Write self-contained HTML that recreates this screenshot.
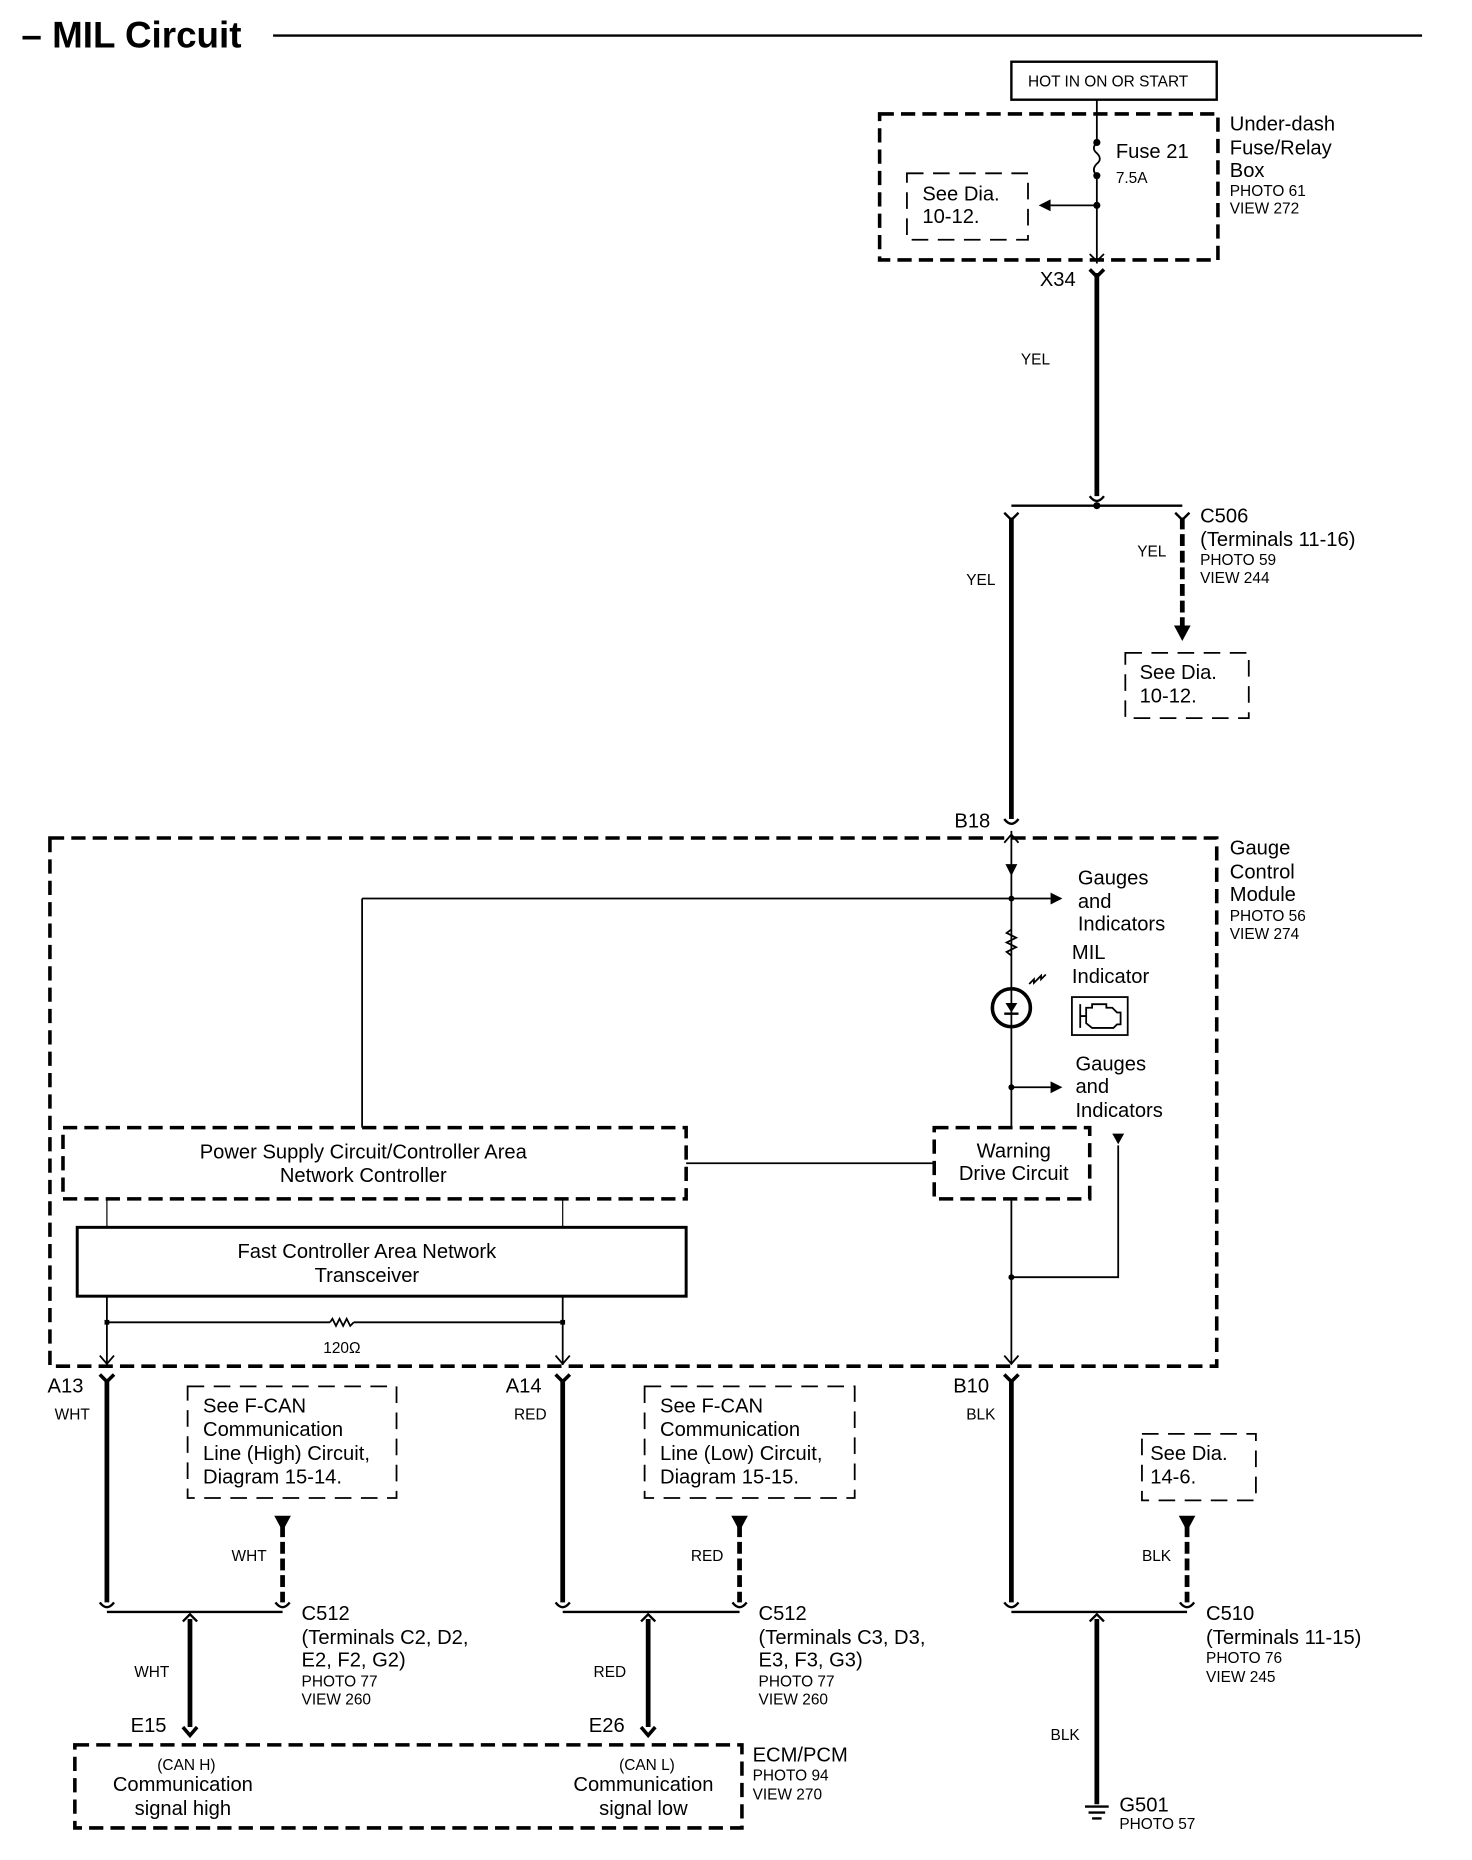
<!DOCTYPE html>
<html><head><meta charset="utf-8"><style>
html,body{margin:0;padding:0;background:#fff}
svg{display:block}
text{font-family:"Liberation Sans",Arial,sans-serif;fill:#000}
.m{font-size:17px}.s{font-size:13px}
</style></head><body>
<svg width="1472" height="1860" viewBox="0 0 1240 1567" xmlns="http://www.w3.org/2000/svg">
<g stroke="#000" fill="none">
<line x1="230" y1="30" x2="1198" y2="30" stroke-width="2"/>
<rect x="852" y="52" width="173" height="32" stroke-width="2"/>
<rect x="741" y="96" width="285" height="123" stroke-width="3" stroke-dasharray="12,6"/>
<line x1="924" y1="84" x2="924" y2="120" stroke-width="1.5"/>
<path d="M924 120 q-5 5 0 9 q5 5 0 9 q-5 5 0 10" stroke-width="1.5"/>
<line x1="924" y1="148" x2="924" y2="222" stroke-width="1.5"/>
<line x1="924" y1="173" x2="885" y2="173" stroke-width="1.5"/>
<rect x="764" y="146" width="102" height="56" stroke-width="1.5" stroke-dasharray="14,8"/>
<path d="M918 214 L924 220 L930 214" stroke-width="1.5"/>
<path d="M918 227 L924 233 L930 227" stroke-width="3"/>
<line x1="924" y1="230" x2="924" y2="418" stroke-width="4"/>
<path d="M918 418 q6 8 12 0" stroke-width="2"/>
<line x1="852" y1="426" x2="996" y2="426" stroke-width="2"/>
<path d="M846 432 L852 438 L858 432" stroke-width="2"/>
<path d="M990 432 L996 438 L1002 432" stroke-width="2"/>
<line x1="852" y1="436" x2="852" y2="690" stroke-width="4"/>
<line x1="996" y1="436" x2="996" y2="528" stroke-width="4" stroke-dasharray="10,4"/>
<rect x="948" y="550" width="104" height="55" stroke-width="1.5" stroke-dasharray="14,8"/>
<path d="M846 690 q6 8 12 0" stroke-width="2"/>
<rect x="42" y="706" width="983" height="445" stroke-width="3" stroke-dasharray="12,6"/>
<line x1="852" y1="700" x2="852" y2="950" stroke-width="1.5"/>
<line x1="852" y1="1010" x2="852" y2="1148" stroke-width="1.5"/>
<path d="M846 710 L852 703 L858 710" stroke-width="1.5"/>
<line x1="305" y1="757" x2="885" y2="757" stroke-width="1.5"/>
<line x1="305" y1="757" x2="305" y2="950" stroke-width="1.5"/>
<path d="M852 783 l-4 3 l8 4 l-8 4 l8 4 l-8 4 l4 3" stroke-width="1.5" fill="none"/>
<circle cx="852" cy="849" r="16" stroke-width="3" fill="#fff"/>
<line x1="852" y1="833" x2="852" y2="865" stroke-width="1.5"/>
<rect x="903" y="840" width="47" height="32" stroke-width="1.5"/>
<path d="M910 846v20 M910 856h5 M915 849h5v-3h12v3h5l4 4h3v10h-3l-3 3h-18l-5-4v-10z" stroke-width="1.5"/>
<path d="M867 829 l4-4 l0 3 l4-4 M873 826 l4-4 l0 3 l4-4" stroke-width="1.5"/>
<line x1="852" y1="916" x2="885" y2="916" stroke-width="1.5"/>
<rect x="53" y="950" width="525" height="60" stroke-width="3" stroke-dasharray="12,6"/>
<line x1="578" y1="980" x2="787" y2="980" stroke-width="1.5"/>
<rect x="787" y="950" width="131" height="60" stroke-width="3" stroke-dasharray="12,6" fill="#fff"/>
<polyline points="942,965 942,1076 852,1076" stroke-width="1.5"/>
<line x1="90" y1="1010" x2="90" y2="1034" stroke-width="1"/>
<line x1="474" y1="1010" x2="474" y2="1034" stroke-width="1"/>
<rect x="65" y="1034" width="513" height="58" stroke-width="2.5"/>
<line x1="90" y1="1092" x2="90" y2="1150" stroke-width="1.5"/>
<line x1="474" y1="1092" x2="474" y2="1150" stroke-width="1.5"/>
<line x1="90" y1="1114" x2="278" y2="1114" stroke-width="1.5"/>
<path d="M278 1114 l2-3 l3 6 l3-6 l3 6 l3-6 l3 6 l3-3" stroke-width="1.5"/>
<line x1="298" y1="1114" x2="474" y2="1114" stroke-width="1.5"/>
<path d="M84 1142 L90 1149 L96 1142 M468 1142 L474 1149 L480 1142 M846 1142 L852 1149 L858 1142" stroke-width="1.5"/>
<path d="M84 1158 L90 1164 L96 1158 M468 1158 L474 1164 L480 1158 M846 1158 L852 1164 L858 1158" stroke-width="3"/>
<line x1="90" y1="1162" x2="90" y2="1350" stroke-width="4"/>
<line x1="474" y1="1162" x2="474" y2="1350" stroke-width="4"/>
<line x1="852" y1="1162" x2="852" y2="1350" stroke-width="4"/>
<rect x="158" y="1168" width="176" height="94" stroke-width="1.5" stroke-dasharray="14,8"/>
<rect x="543" y="1168" width="177" height="94" stroke-width="1.5" stroke-dasharray="14,8"/>
<rect x="962" y="1208" width="96" height="56" stroke-width="1.5" stroke-dasharray="14,8"/>
<line x1="238" y1="1285" x2="238" y2="1350" stroke-width="4" stroke-dasharray="10,4"/>
<line x1="623" y1="1285" x2="623" y2="1350" stroke-width="4" stroke-dasharray="10,4"/>
<line x1="1000" y1="1285" x2="1000" y2="1350" stroke-width="4" stroke-dasharray="10,4"/>
<path d="M84 1350 q6 8 12 0 M232 1350 q6 8 12 0 M468 1350 q6 8 12 0 M617 1350 q6 8 12 0 M846 1350 q6 8 12 0 M994 1350 q6 8 12 0" stroke-width="2"/>
<line x1="90" y1="1358" x2="238" y2="1358" stroke-width="2"/>
<line x1="474" y1="1358" x2="623" y2="1358" stroke-width="2"/>
<line x1="852" y1="1358" x2="1000" y2="1358" stroke-width="2"/>
<path d="M154 1366 L160 1360 L166 1366 M540 1366 L546 1360 L552 1366 M918 1366 L924 1360 L930 1366" stroke-width="2"/>
<line x1="160" y1="1364" x2="160" y2="1455" stroke-width="4"/>
<line x1="546" y1="1364" x2="546" y2="1455" stroke-width="4"/>
<line x1="924" y1="1364" x2="924" y2="1520" stroke-width="4"/>
<path d="M154 1455 L160 1462 L166 1455 M540 1455 L546 1462 L552 1455" stroke-width="3"/>
<path d="M914 1522h20 M917 1527h14 M920 1532h8" stroke-width="2"/>
<rect x="63" y="1470" width="562" height="70" stroke-width="3" stroke-dasharray="12,6"/>
</g>
<g fill="#000">
<polygon points="875,173 885,168 885,178"/>
<polygon points="989,527 1003,527 996,540"/>
<polygon points="847,728 857,728 852,738"/>
<circle cx="852" cy="757" r="2.5"/>
<polygon points="885,752 895,757 885,762"/>
<polygon points="847,845 857,845 852,853"/>
<rect x="846" y="853" width="12" height="2"/>
<circle cx="852" cy="916" r="2.5"/>
<polygon points="885,911 895,916 885,921"/>
<polygon points="937,955 947,955 942,964"/>
<circle cx="852" cy="1076" r="2.5"/>
<rect x="88" y="1112" width="4" height="4"/><rect x="472" y="1112" width="4" height="4"/>
<circle cx="924" cy="120" r="3"/><circle cx="924" cy="148" r="3"/><circle cx="924" cy="173" r="3"/>
<circle cx="924" cy="426" r="3"/>
<polygon points="231,1277 245,1277 238,1290"/>
<polygon points="616,1277 630,1277 623,1290"/>
<polygon points="993,1277 1007,1277 1000,1290"/>
</g>
<text x="18" y="40" font-size="31" font-weight="bold">– MIL Circuit</text>
<text x="866" y="73" class="s">HOT IN ON OR START</text>
<text x="940" y="133" class="m">Fuse 21</text>
<text x="940" y="154" class="s">7.5A</text>
<text x="777" y="169" class="m">See Dia.</text><text x="777" y="188" class="m">10-12.</text>
<text x="1036" y="110" class="m">Under-dash</text><text x="1036" y="130" class="m">Fuse/Relay</text><text x="1036" y="149" class="m">Box</text>
<text x="1036" y="165" class="s">PHOTO 61</text><text x="1036" y="180" class="s">VIEW 272</text>
<text x="876" y="241" class="m">X34</text>
<text x="860" y="307" class="s">YEL</text>
<text x="1011" y="440" class="m">C506</text><text x="1011" y="460" class="m">(Terminals 11-16)</text>
<text x="1011" y="476" class="s">PHOTO 59</text><text x="1011" y="491" class="s">VIEW 244</text>
<text x="958" y="469" class="s">YEL</text><text x="814" y="493" class="s">YEL</text>
<text x="960" y="572" class="m">See Dia.</text><text x="960" y="592" class="m">10-12.</text>
<text x="804" y="697" class="m">B18</text>
<text x="1036" y="720" class="m">Gauge</text><text x="1036" y="740" class="m">Control</text><text x="1036" y="759" class="m">Module</text>
<text x="1036" y="776" class="s">PHOTO 56</text><text x="1036" y="791" class="s">VIEW 274</text>
<text x="908" y="745" class="m">Gauges</text><text x="908" y="765" class="m">and</text><text x="908" y="784" class="m">Indicators</text>
<text x="903" y="808" class="m">MIL</text><text x="903" y="828" class="m">Indicator</text>
<text x="906" y="902" class="m">Gauges</text><text x="906" y="921" class="m">and</text><text x="906" y="941" class="m">Indicators</text>
<text x="306" y="976" class="m" text-anchor="middle">Power Supply Circuit/Controller Area</text>
<text x="306" y="996" class="m" text-anchor="middle">Network Controller</text>
<text x="854" y="975" class="m" text-anchor="middle">Warning</text><text x="854" y="994" class="m" text-anchor="middle">Drive Circuit</text>
<text x="309" y="1060" class="m" text-anchor="middle">Fast Controller Area Network</text>
<text x="309" y="1080" class="m" text-anchor="middle">Transceiver</text>
<text x="288" y="1140" class="s" text-anchor="middle">120Ω</text>
<text x="40" y="1173" class="m">A13</text><text x="46" y="1196" class="s">WHT</text>
<text x="426" y="1173" class="m">A14</text><text x="433" y="1196" class="s">RED</text>
<text x="803" y="1173" class="m">B10</text><text x="814" y="1196" class="s">BLK</text>
<text x="171" y="1190" class="m">See F-CAN</text><text x="171" y="1210" class="m">Communication</text><text x="171" y="1230" class="m">Line (High) Circuit,</text><text x="171" y="1250" class="m">Diagram 15-14.</text>
<text x="556" y="1190" class="m">See F-CAN</text><text x="556" y="1210" class="m">Communication</text><text x="556" y="1230" class="m">Line (Low) Circuit,</text><text x="556" y="1250" class="m">Diagram 15-15.</text>
<text x="969" y="1230" class="m">See Dia.</text><text x="969" y="1250" class="m">14-6.</text>
<text x="195" y="1315" class="s">WHT</text><text x="582" y="1315" class="s">RED</text><text x="962" y="1315" class="s">BLK</text>
<text x="254" y="1365" class="m">C512</text><text x="254" y="1385" class="m">(Terminals  C2, D2,</text><text x="254" y="1404" class="m">E2, F2, G2)</text>
<text x="254" y="1421" class="s">PHOTO 77</text><text x="254" y="1436" class="s">VIEW 260</text>
<text x="639" y="1365" class="m">C512</text><text x="639" y="1385" class="m">(Terminals  C3, D3,</text><text x="639" y="1404" class="m">E3, F3, G3)</text>
<text x="639" y="1421" class="s">PHOTO 77</text><text x="639" y="1436" class="s">VIEW 260</text>
<text x="1016" y="1365" class="m">C510</text><text x="1016" y="1385" class="m">(Terminals 11-15)</text>
<text x="1016" y="1401" class="s">PHOTO 76</text><text x="1016" y="1417" class="s">VIEW 245</text>
<text x="113" y="1413" class="s">WHT</text><text x="500" y="1413" class="s">RED</text><text x="885" y="1466" class="s">BLK</text>
<text x="110" y="1459" class="m">E15</text><text x="496" y="1459" class="m">E26</text>
<text x="157" y="1491" class="s" text-anchor="middle">(CAN H)</text>
<text x="154" y="1509" class="m" text-anchor="middle">Communication</text><text x="154" y="1529" class="m" text-anchor="middle">signal high</text>
<text x="545" y="1491" class="s" text-anchor="middle">(CAN L)</text>
<text x="542" y="1509" class="m" text-anchor="middle">Communication</text><text x="542" y="1529" class="m" text-anchor="middle">signal low</text>
<text x="634" y="1484" class="m">ECM/PCM</text><text x="634" y="1500" class="s">PHOTO 94</text><text x="634" y="1516" class="s">VIEW 270</text>
<text x="943" y="1526" class="m">G501</text><text x="943" y="1541" class="s">PHOTO 57</text>
</svg>
</body></html>
